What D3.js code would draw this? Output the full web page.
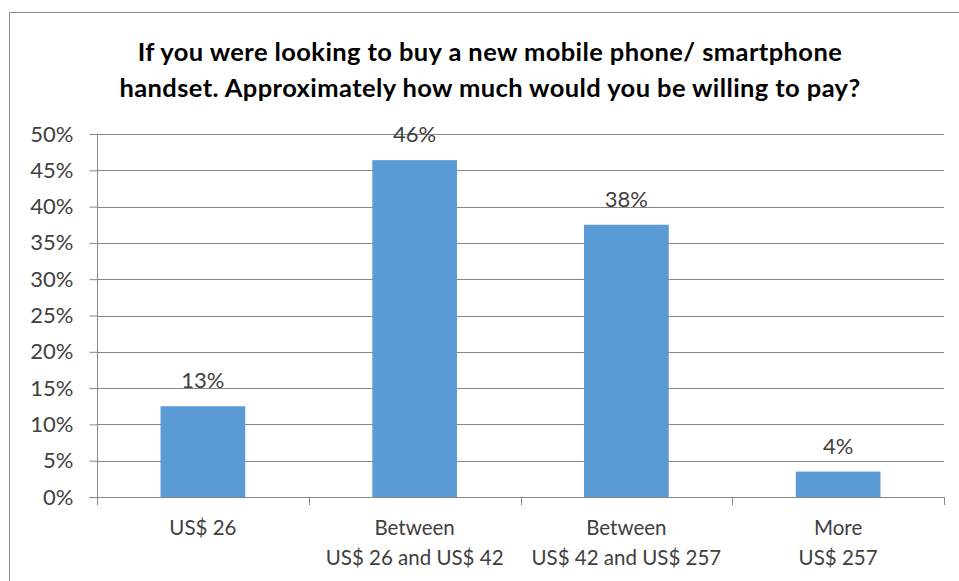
<!DOCTYPE html>
<html>
<head>
<meta charset="utf-8">
<script src="https://cdn.jsdelivr.net/npm/d3@7"></script>
<style>
  html, body { margin: 0; padding: 0; background: #fff; }
  svg { display: block; font-family: Lato, "Open Sans", sans-serif; }
</style>
</head>
<body>
<svg id="chart" width="959" height="581"></svg>
<script>
// Survey answers: willingness to pay for a new handset
const categories = [
  ["US$ 26"],
  ["Between", "US$ 26 and US$ 42"],
  ["Between", "US$ 42 and US$ 257"],
  ["More", "US$ 257"]
];
const shares = [0.125, 0.464, 0.375, 0.035];
const yTicks = [0, 0.05, 0.10, 0.15, 0.20, 0.25, 0.30, 0.35, 0.40, 0.45, 0.50];
const titleLines = [
  "If you were looking to buy a new mobile phone/ smartphone",
  "handset. Approximately how much would you be willing to pay?"
];

const svg = d3.select("#chart");
const W = 959, H = 581;
const plot = { left: 97, right: 944, top: 134, bottom: 497 };

// Outer frame
svg.append("rect")
  .attr("x", 9.5).attr("y", 12.5)
  .attr("width", W).attr("height", H)
  .attr("fill", "#fff").attr("stroke", "#8c8c8c").attr("stroke-width", 1);

// Title
svg.append("g").selectAll("text")
  .data(titleLines).join("text")
  .attr("x", 490).attr("y", (d, i) => 61 + i * 36)
  .attr("text-anchor", "middle")
  .attr("font-size", 25.5).attr("font-weight", "bold")
  .attr("letter-spacing", 0.4)
  .attr("fill", "#000")
  .text(d => d);

const x = d3.scaleBand()
  .domain(d3.range(categories.length))
  .range([plot.left, plot.right])
  .paddingInner(0.6).paddingOuter(0.3);

const y = d3.scaleLinear().domain([0, 0.5]).range([plot.bottom, plot.top]);

// Gridlines
svg.append("g").selectAll("line")
  .data(yTicks.filter(t => t > 0)).join("line")
  .attr("x1", plot.left).attr("x2", plot.right)
  .attr("y1", d => Math.round(y(d)) + 0.5).attr("y2", d => Math.round(y(d)) + 0.5)
  .attr("stroke", "#868686").attr("stroke-width", 1);

// Y axis
const yAxis = svg.append("g")
  .attr("transform", `translate(${plot.left + 0.5},0)`)
  .call(d3.axisLeft(y).tickValues(yTicks).tickFormat(d3.format(".0%")).tickSize(8).tickPadding(16));
yAxis.select(".domain").attr("stroke", "#868686").attr("d", `M0,${plot.top}V${plot.bottom}`);
yAxis.selectAll(".tick line").attr("stroke", "#868686");
yAxis.selectAll(".tick text")
  .attr("font-size", 22).attr("fill", "#404040").attr("font-family", "Lato, sans-serif");

// Bars
svg.append("g").selectAll("rect")
  .data(shares).join("rect")
  .attr("x", (d, i) => x(i))
  .attr("width", x.bandwidth())
  .attr("y", d => y(d))
  .attr("height", d => y(0) - y(d))
  .attr("fill", "#5b9bd5");

// X axis baseline with category separators
const step = x.step();
const xAxis = svg.append("g");
xAxis.append("line")
  .attr("x1", plot.left - 8).attr("x2", plot.right)
  .attr("y1", plot.bottom + 0.5).attr("y2", plot.bottom + 0.5)
  .attr("stroke", "#868686");
xAxis.selectAll("line.sep")
  .data(d3.range(categories.length + 1)).join("line")
  .attr("class", "sep")
  .attr("x1", i => Math.round(plot.left + i * step) + 0.5)
  .attr("x2", i => Math.round(plot.left + i * step) + 0.5)
  .attr("y1", plot.bottom).attr("y2", plot.bottom + 8)
  .attr("stroke", "#868686");

// Category labels
const catG = svg.append("g").selectAll("text")
  .data(categories).join("text")
  .attr("text-anchor", "middle")
  .attr("font-size", 20.5).attr("fill", "#404040");
catG.selectAll("tspan")
  .data((d, i) => d.map(line => ({ line, i })))
  .join("tspan")
  .attr("x", d => x(d.i) + x.bandwidth() / 2)
  .attr("y", (d, j) => 535 + j * 30)
  .text(d => d.line);

// Value labels
svg.append("g").selectAll("text")
  .data(shares).join("text")
  .attr("x", (d, i) => x(i) + x.bandwidth() / 2)
  .attr("y", d => y(d) - 18)
  .attr("text-anchor", "middle")
  .attr("font-size", 22).attr("fill", "#404040")
  .text(d => d3.format(".0%")(d));
</script>
</body>
</html>
